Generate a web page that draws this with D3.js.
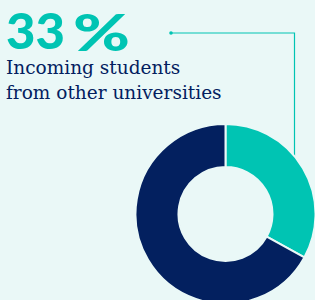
<!DOCTYPE html>
<html>
<head>
<meta charset="utf-8">
<script src="https://cdn.jsdelivr.net/npm/d3@7"></script>
<style>
  html, body { margin: 0; padding: 0; background: #eaf8f7; }
  svg { display: block; }
</style>
</head>
<body>
<div id="chart"></div>
<script>
// Data
const categories = ["From other universities", "Other"];
const shares = [33, 67];
const colors = ["#00c4b3", "#03205f"];
const headlineNumber = "33";
const headlineUnit = "%";
const captionLines = ["Incoming students", "from other universities"];

const width = 315, height = 300;
const bg = "#eaf8f7";

const svg = d3.select("#chart")
    .append("svg")
    .attr("width", width)
    .attr("height", height);

svg.append("rect")
    .attr("width", width)
    .attr("height", height)
    .attr("fill", bg);

// Donut
const cx = 225.5, cy = 214;
const outerR = 90, innerR = 47;

const pie = d3.pie().sort(null).value(d => d);
const arc = d3.arc().innerRadius(innerR).outerRadius(outerR);

// Leader line (drawn under the donut)
const lineY = 33, lineX0 = 171, lineX1 = 294.5;
svg.append("path")
    .attr("d", `M${lineX0},${lineY} H${lineX1} V${cy - 50}`)
    .attr("fill", "none")
    .attr("stroke", colors[0])
    .attr("stroke-width", 1.2);

svg.append("circle")
    .attr("cx", lineX0)
    .attr("cy", lineY)
    .attr("r", 1.8)
    .attr("fill", colors[0]);

const g = svg.append("g")
    .attr("transform", `translate(${cx},${cy})`);

g.selectAll("path.slice")
    .data(pie(shares))
    .enter()
    .append("path")
    .attr("class", "slice")
    .attr("d", arc)
    .attr("fill", (d, i) => colors[i])
    .attr("stroke", bg)
    .attr("stroke-width", 2);

// Headline
svg.append("text")
    .attr("x", 6)
    .attr("y", 49)
    .attr("fill", colors[0])
    .attr("textLength", 59)
    .attr("lengthAdjust", "spacingAndGlyphs")
    .style("font-family", "Lato, 'Open Sans', sans-serif")
    .style("font-weight", 900)
    .style("font-size", "50px")
    .text(headlineNumber);

svg.append("text")
    .attr("x", 73)
    .attr("y", 51)
    .attr("fill", colors[0])
    .attr("textLength", 57)
    .attr("lengthAdjust", "spacingAndGlyphs")
    .style("font-family", "Lato, 'Open Sans', sans-serif")
    .style("font-weight", 900)
    .style("font-size", "51px")
    .text(headlineUnit);

// Caption
svg.append("text")
    .attr("fill", colors[1])
    .style("font-family", "'DejaVu Serif', serif")
    .style("font-size", "18.5px")
    .selectAll("tspan")
    .data(captionLines)
    .enter()
    .append("tspan")
    .attr("x", 6)
    .attr("y", (d, i) => 74 + i * 25)
    .text(d => d);
</script>
</body>
</html>
